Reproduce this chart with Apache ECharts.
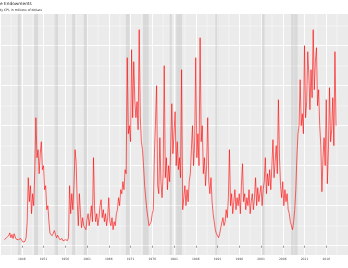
<!DOCTYPE html>
<html><head><meta charset="utf-8">
<script src="https://cdn.jsdelivr.net/npm/echarts@6/dist/echarts.min.js"></script>
<style>html,body{margin:0;padding:0;background:#fff}#c{width:348px;height:268px}</style>
</head><body><div id="c"></div>
<script>
// Title texts (cropped in the reference)
const titleText = 'e Endowments';
const subtitleText = 'ty CPI, in millions of dollars';

// Quarterly observations starting at 1942.0
const startYear = 1942;
const stepYears = 0.25;
const values = [
150,120,200,160,
250,320,200,280,180,300,220,160,
120,150,100,180,130,90,140,110,200,
600,1700,1100,1500,800,1300,
1000,1900,3200,2200,
2400,1800,2300,2600,
1900,2000,1400,1500,900,1000,600,
300,350,250,300,380,280,200,260,300,
150,100,180,120,80,150,100,130,200,
1500,800,1300,900,1500,2400,2100,1100,500,1300,800,
450,700,500,550,400,650,
800,500,700,1000,600,2200,900,600,800,500,700,
1000,1150,700,900,600,800,500,700,1200,600,500,700,400,600,500,
800,900,1200,1000,1400,1300,1600,1400,1900,1800,
4700,2800,3000,2600,
4900,3200,4600,3600,3200,3600,2900,5400,3200,2600,2400,2000,1500,
1200,900,700,500,450,600,800,
900,2300,3100,4000,1500,1300,2700,1600,1200,1800,4500,1700,2200,1400,2000,1600,
2500,3550,2300,2800,3350,2000,2600,1900,2200,
1700,4400,900,
1200,1500,1000,1400,1100,1600,
1800,2400,3000,2000,2600,4700,2200,2800,2000,5200,2600,3000,
1800,2200,1500,2000,3200,1600,1300,1700,
1100,800,600,400,300,250,
200,300,450,400,700,500,600,
900,700,1200,2400,1000,1300,800,1100,1400,900,1200,1000,1300,800,1500,2050,1100,
1300,900,1200,1000,1400,800,1100,1300,900,1200,1700,1000,1450,1100,1300,1500,1000,1400,
1600,2200,1300,1800,1500,1900,1400,2000,2650,1700,2100,
2500,1800,3650,2200,
1500,1200,1600,1000,1400,1100,1300,900,800,600,
500,400,600,
900,1400,2200,2800,3000,
4150,3000,3300,2800,5000,3200,3600,4850,4250,3400,4400,3700,5400,3900,4600,4950,3500,3900,3000,
2500,1350,2200,2700,2000,3650,1550,2400,3950,2600,2900,3700,2500,4850,3000
];

// Recession periods (decimal years)
const recessions = [
[1945.08,1945.75],[1948.83,1949.75],[1953.5,1954.33],[1957.58,1958.33],
[1960.25,1961.08],[1969.92,1970.83],[1973.83,1975.17],[1980.0,1980.5],
[1981.5,1982.83],[1990.5,1991.17],[2001.17,2001.83],[2007.92,2009.42]
];

const seriesData = values.map((v,i)=>[startYear + i*stepYears, v]);

const chart = echarts.init(document.getElementById('c'), null, {renderer:'canvas'});
chart.setOption({
  animation:false,
  title:{
    text:titleText, subtext:subtitleText, left:0, top:1.5, padding:0, itemGap:3.5,
    textStyle:{fontSize:4.3, fontWeight:'normal', color:'#1a1a1a', fontFamily:'DejaVu Sans'},
    subtextStyle:{fontSize:3.1, color:'#1a1a1a', fontFamily:'DejaVu Sans'}
  },
  grid:[
    {left:-4.8, right:-12, top:14, bottom:13, show:true, backgroundColor:'#EBEBEB', borderWidth:0, containLabel:false},
    {left:0, right:0, top:5.7, bottom:22.3, show:false, containLabel:false}
  ],
  xAxis:[
    {type:'value', gridIndex:0, min:1941, max:2021, interval:5,
     axisLine:{show:false},
     axisTick:{show:true, length:2, lineStyle:{color:'#333', width:0.5}},
     axisLabel:{show:true, fontSize:3, margin:2.5, color:'#4D4D4D', showMinLabel:false, showMaxLabel:false, fontFamily:'DejaVu Sans', formatter:v=>String(v)},
     splitLine:{show:true, lineStyle:{color:'#FFFFFF', width:0.9}},
     minorTick:{show:false, splitNumber:2},
     minorSplitLine:{show:true, lineStyle:{color:'#FFFFFF', width:0.45}}
    },
    {type:'value', gridIndex:1, min:0, max:1, show:false}
  ],
  yAxis:[
    {type:'value', gridIndex:0, min:-232.5, max:5792.5, show:false, splitLine:{show:false}},
    {type:'value', gridIndex:1, min:0, max:6000, interval:1000,
     axisLine:{show:false}, axisTick:{show:false}, axisLabel:{show:false},
     splitLine:{show:true, lineStyle:{color:'#FFFFFF', width:0.9}},
     minorTick:{show:false, splitNumber:2},
     minorSplitLine:{show:true, lineStyle:{color:'#FFFFFF', width:0.45}}
    }
  ],
  series:[
    {type:'line', xAxisIndex:0, yAxisIndex:0, data:[], z:1, silent:true,
     markArea:{silent:true, itemStyle:{color:'rgba(0,0,0,0.075)'},
       data:recessions.map(r=>[{xAxis:r[0]},{xAxis:r[1]}])}},
    {type:'line', xAxisIndex:0, yAxisIndex:0, data:seriesData, z:3, showSymbol:false, silent:true,
     lineStyle:{color:'#FF0000', width:0.6}}
  ]
});
</script></body></html>
